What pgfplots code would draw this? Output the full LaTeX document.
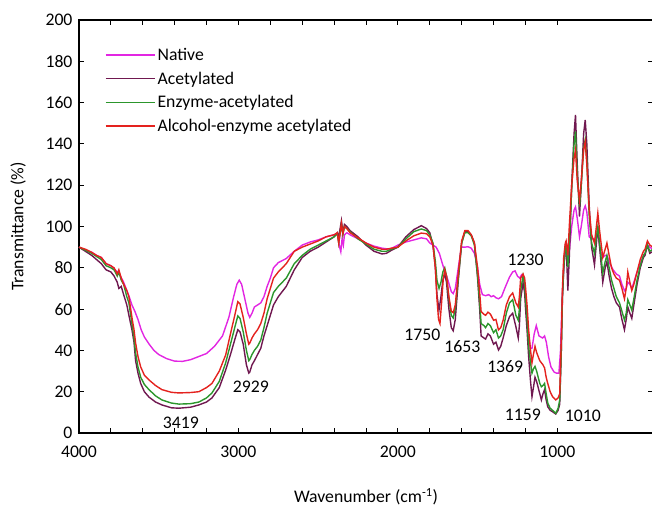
\documentclass[border=0pt]{standalone}
\usepackage{fontspec}
\setmainfont{Carlito}
\usepackage{pgfplots}
\pgfplotsset{compat=1.18}
\usetikzlibrary{calc}

\definecolor{native}{RGB}{226,38,226}
\definecolor{acet}{RGB}{112,24,80}
\definecolor{enz}{RGB}{44,150,44}
\definecolor{alc}{RGB}{228,34,30}
\newcommand{\fs}{\fontsize{17.7}{21}\selectfont}

\begin{document}
\begin{tikzpicture}
\begin{axis}[
  scale only axis, width=574pt, height=413pt,
  x dir=reverse, xmin=400, xmax=4000, ymin=0, ymax=200,
  xtick={1000,2000,3000,4000}, minor x tick num=4,
  ytick={0,20,...,200},
  tick align=inside, major tick length=5pt, minor tick length=5pt,
  axis line style={line width=1.2pt}, tick style={line width=0.9pt, black},
  /pgf/number format/1000 sep={},
  /pgf/number format/assume math mode=true,
  tick label style={font=\fs},
  xticklabel style={yshift=-9pt},
  yticklabel style={xshift=-3pt},
  label style={font=\fs},
  xlabel={Wavenumber (cm\textsuperscript{-1})},
  ylabel={Transmittance (\%)},
  xlabel style={at={(axis description cs:0.5,-0.155)}, anchor=center},
  ylabel style={at={(axis description cs:-0.106,0.5)}, anchor=center},
  legend style={at={(axis description cs:0.04,0.942)}, anchor=north west,
    draw=none, fill=none, font=\fs, row sep=5.9pt, cells={anchor=west}},
  legend image code/.code={\draw[#1, line width=1.5pt] (0pt,0pt) -- (41pt,0pt);
    \path (0pt,0pt) -- (49pt,0pt);},
  every axis plot/.append style={line width=1.4pt},
  clip=false,
]
\addplot[native] table {
4000 90
3960 88.5
3920 87.5
3890 86
3860 85
3830 82
3800 81
3780 79.5
3760 78
3740 76
3720 73
3700 69
3685 66
3668 62
3650 59
3630 55
3610 50
3590 46.5
3560 43
3530 40
3500 38
3450 36
3400 34.8
3350 34.7
3300 35.5
3250 37
3200 38.5
3150 42
3100 47
3060 56
3030 66
3010 72
2995 74
2980 72
2960 65
2940 58
2929 56
2915 58
2900 61
2880 62
2860 63
2840 66
2820 71
2800 75
2780 80
2750 82.5
2700 84.5
2650 88
2600 91
2550 92.5
2500 93.5
2450 95
2400 96
2380 96.5
2365 90
2358 87.8
2350 94
2342 91
2335 96
2320 97
2300 96
2250 94
2200 92
2150 90.5
2100 89.5
2050 89
2000 91
1950 92.5
1900 93.5
1853 94.5
1820 94
1800 92
1760 90
1740 87
1717 81
1686 74
1665 68.5
1653 67.5
1640 70
1623 79
1602 90
1580 90
1560 90.2
1540 89.5
1520 87
1500 80
1487 72
1470 67
1450 66.5
1430 67
1415 66
1400 66.5
1385 65.5
1369 65
1350 66
1330 70
1300 75.5
1280 78
1265 78.5
1250 76
1236 75
1225 76.5
1215 75
1200 66
1185 50
1170 41
1159 41
1145 48
1132 52
1115 47
1092 46
1080 47
1069 44
1055 37
1040 32
1020 29.5
1006 29
990 29
980 40
970 65
960 80
950 88
940 89
934 84
925 88
910 100
895 108
886 109.5
875 104
861 95
850 100
835 108
825 110
815 107
800 95
785 94
770 94
760 93
750 96
740 94
730 88
715 85
700 86
689 86
670 82
650 79
630 77
610 76
595 72
579 69
568 70
558 73
545 72
533 70
520 73
500 78
480 82
460 86
450 87
435 91
420 90
400 89
};
\addlegendentry{Native}
\addplot[acet] table {
4000 90
3960 88
3920 86
3890 84
3860 82
3830 79
3800 78
3780 76
3760 73
3750 70
3735 71
3720 67
3700 62
3687 57
3668 50
3655 44
3645 35
3630 29
3613 24
3590 20
3561 17.4
3520 15
3480 13.6
3420 12.2
3373 12
3300 12.5
3248 13.6
3200 15
3166 17
3120 22
3080 30.5
3050 38
3020 46
3004 50
2990 49
2970 43
2950 33
2935 29
2929 29.5
2915 33
2900 35
2880 38
2860 41
2840 47
2820 52
2800 57
2780 62
2750 66
2700 71
2650 79
2600 85
2550 88
2500 90
2450 92.5
2400 95
2380 97
2371 95
2354 102.8
2345 97
2335 101
2320 100
2300 98
2250 95
2200 91
2150 88
2100 86.7
2072 87
2040 88.5
2000 90
1950 95
1900 98.5
1853 100.4
1820 99
1800 97
1780 91
1765 80
1755 67
1742 59.5
1730 66
1718 74
1706 77
1695 73
1680 60
1665 51
1653 49.5
1640 55
1620 75
1600 92
1580 97.5
1560 97.5
1540 96
1520 92
1500 75
1487 60
1478 47
1460 46
1450 45.5
1435 48
1420 47
1400 43
1385 44
1369 40.2
1355 42
1340 46
1320 52
1300 56.3
1280 58
1260 51.5
1245 46
1238 52
1230 65
1215 72.6
1205 68
1200 61
1190 50
1180 37
1168 25
1159 17.6
1150 22
1140 27
1130 25
1120 22
1110 19
1100 16
1090 19
1080 21
1070 16
1060 12.7
1045 11
1030 10.3
1010 9.2
995 11
985 14
975 40
968 65
960 79
950 91
945 92
934 69
925 85
910 120
895 145
886 154
875 130
861 104.8
850 120
835 145
825 151.6
815 140
800 110
785 90
767 81.4
755 92
746 100
735 90
715 73
700 80
689 83
675 76
660 70
645 66
630 63
610 61
595 55
579 50
568 55
558 61
545 58
533 55.5
520 62
500 72
480 80
460 85
450 86
435 91
420 87
400 88
};
\addlegendentry{Acetylated}
\addplot[enz] table {
4000 90
3960 88.5
3920 87
3890 85.5
3860 84
3830 81
3800 80
3780 79
3760 76
3750 78
3735 74
3720 72
3700 66
3687 63
3668 53
3655 46
3645 38.7
3630 32
3613 27
3590 23.5
3561 21
3520 18
3480 16
3420 14.5
3373 14
3300 14.2
3248 15
3200 17
3166 19.4
3120 25
3080 34
3050 43
3020 52
3004 56.7
2990 55.5
2970 49
2950 40
2935 35
2929 35.5
2915 38
2900 40
2880 42
2860 45
2840 51
2820 58
2800 63
2780 68
2750 71
2700 75
2650 82
2600 86
2550 89
2500 91
2450 93
2400 95
2380 96.5
2371 92
2354 101
2345 96
2335 100
2320 99
2300 97.5
2250 94
2200 91.5
2150 89
2100 88
2072 88
2040 89
2000 90
1950 94
1900 97.5
1853 98.8
1820 98
1800 96
1780 92
1765 83
1755 74
1742 70
1730 73
1718 78
1706 80
1695 76
1680 65
1665 57
1653 55.7
1640 60
1620 76
1600 92
1580 97
1560 97
1540 95.5
1520 91
1500 76
1487 63
1478 53
1460 52
1450 51
1435 53
1420 52
1400 48.6
1385 50
1369 46
1355 47
1340 50
1320 58
1300 63
1280 64.6
1260 57
1245 54.6
1238 60
1230 69
1215 76
1205 72
1200 66
1190 55
1180 42
1168 34
1159 29
1150 31
1140 32.3
1130 30
1120 27
1110 24
1100 22.4
1090 23
1080 24
1070 19
1060 14.5
1045 12
1030 11
1010 9.5
995 12
985 16
975 40
968 66
960 80
950 90
945 91
934 80.5
925 92
910 118
895 140
886 146
875 125
861 109.6
850 120
835 138
825 142
815 132
800 105
785 92
767 87
755 95
746 100
735 92
715 77.4
700 83
689 86
675 80
660 74
645 70
630 66
610 63
595 59
579 54.7
568 58
558 64.6
545 62
533 59.5
520 65
500 74
480 81
460 86
450 87
435 91
420 88
400 89
};
\addlegendentry{Enzyme-acetylated}
\addplot[alc] table {
4000 90
3960 89
3920 87.5
3890 86
3860 85
3830 82
3800 81
3780 80
3760 77
3750 79
3735 75
3720 72
3700 69
3687 66
3668 56
3655 50
3645 43.6
3630 37
3613 32
3590 28
3561 25.7
3520 23
3480 21
3420 19.7
3373 19.4
3300 19.6
3248 20
3200 22
3166 24
3120 30
3080 37.8
3050 48
3020 58
3004 63.6
2990 62.5
2970 56
2950 48
2935 43
2929 43.5
2915 46
2900 48
2880 50
2860 53
2840 58
2820 65
2800 70
2780 75
2750 78
2700 82
2650 88
2600 90
2550 91.5
2500 93
2450 95
2400 96
2380 97
2371 92
2354 101.5
2345 96.5
2335 100
2320 99
2300 97
2250 94.5
2200 92
2150 90
2100 89
2072 89
2040 89.5
2000 90
1950 93
1900 95.5
1853 96.8
1820 96.5
1800 95
1780 91
1765 80
1755 65
1745 55
1736 53
1726 63
1716 74
1706 79
1695 76
1680 66
1665 59
1653 58.3
1640 62
1620 78
1600 93
1580 98
1560 98
1540 96
1520 92
1500 80
1487 68
1478 58.8
1460 57.5
1450 57
1435 58.5
1420 57.6
1400 54.6
1385 55
1369 49.9
1355 51
1340 54.6
1320 62
1300 66
1280 67.8
1260 63
1245 61
1238 66
1230 75
1215 77
1205 75
1200 71
1190 62
1180 50
1168 40
1159 34
1150 38
1140 42
1130 39
1120 37
1110 35
1100 34
1090 33
1080 31.5
1070 27
1060 24
1045 20
1030 17.6
1010 16
995 17
985 19
975 45
968 70
960 85
950 92
945 93
934 86
925 100
910 120
895 133
886 137
875 122
861 112.8
850 122
835 137
825 141
815 130
800 108
785 96
767 92
755 100
746 106.5
735 98
715 85
700 89
689 92
675 86
660 80
645 77
630 75
610 74
595 70
579 65
568 70
558 78
545 73
533 69
520 72
500 78
480 84
460 88
450 89
435 93
420 91
400 90
};
\addlegendentry{Alcohol-enzyme acetylated}
\node[font=\fs] at (axis cs:3361,5) {3419};
\node[font=\fs] at (axis cs:2922,22.4) {2929};
\node[font=\fs] at (axis cs:1846,47.5) {1750};
\node[font=\fs] at (axis cs:1596,41.8) {1653};
\node[font=\fs] at (axis cs:1327,32.4) {1369};
\node[font=\fs] at (axis cs:1199,84) {1230};
\node[font=\fs] at (axis cs:1216,9) {1159};
\node[font=\fs] at (axis cs:840,8.2) {1010};
\end{axis}
\pgfresetboundingbox
\path ($(current axis.south west)+(-79pt,-75pt)$) rectangle ($(current axis.north east)+(-1pt,20pt)$);
\end{tikzpicture}
\end{document}
